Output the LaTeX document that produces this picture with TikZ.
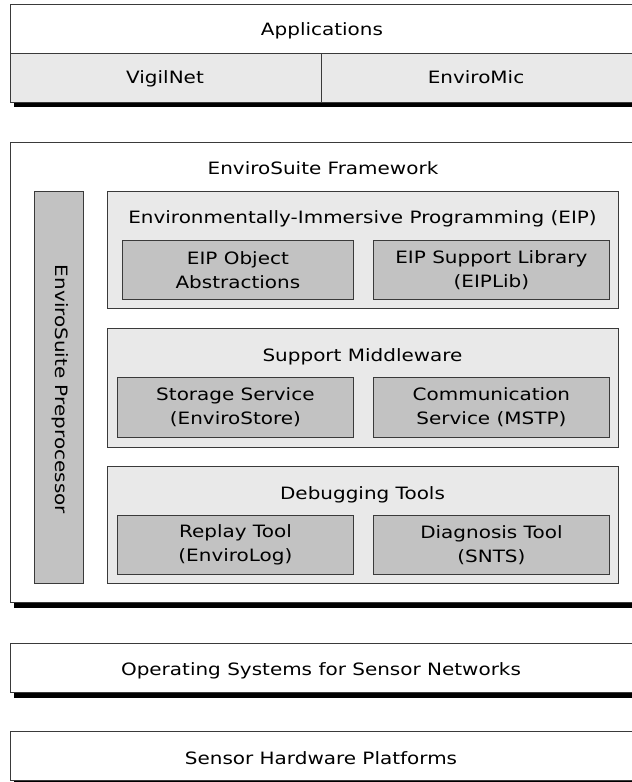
\documentclass[tikz,border=0pt]{standalone}
\usepackage{fontspec}
\setmainfont[FakeStretch=1.175]{DejaVu Sans}
\usetikzlibrary{shadows}
\definecolor{linec}{HTML}{3A3A3A}
\definecolor{lightfill}{HTML}{E9E9E9}
\definecolor{darkfill}{HTML}{C2C2C2}
\begin{document}
\begin{tikzpicture}[x=1pt,y=-1pt,
  font=\fontsize{17}{24}\selectfont,
  frame/.style={draw=linec, line width=0.9pt, fill=white, anchor=north west, inner sep=0pt,
    drop shadow={shadow xshift=4.5pt, shadow yshift=-5.5pt, opacity=1, fill=black}},
  layer/.style={draw=linec, line width=0.8pt, fill=lightfill, anchor=north west, inner sep=0pt},
  part/.style={draw=linec, line width=0.8pt, fill=darkfill, anchor=north west, inner sep=0pt},
  label/.style={anchor=base, inner sep=0pt},
  multi/.style={align=center, inner sep=0pt}
]
\useasboundingbox (0,0) rectangle (632,782);
\clip (0,0) rectangle (632,782);

% Applications
\node[frame, minimum width=640pt, minimum height=97.5pt] (apps) at (9.5,4) {};
\node[layer, minimum width=311.5pt, minimum height=48.5pt] (vigil) at (9.5,53) {};
\node[layer, minimum width=320pt, minimum height=48.5pt] (enviromic) at (321,53) {};
\node[label] (appsT) at (322,35.5) {Applications};
\node[label] (vigilT) at (165,83.3) {VigilNet};
\node[label] (enviromicT) at (476,83.3) {EnviroMic};

% EnviroSuite framework
\node[frame, minimum width=640pt, minimum height=460pt] (fw) at (9.5,141.7) {};
\node[label] (fwT) at (323,174) {EnviroSuite Framework};
\node[part, minimum width=49pt, minimum height=392pt] (pre) at (34,191) {};
\node[rotate=-90, inner sep=0pt] (preT) at ([xshift=1pt,yshift=-2pt]pre.center) {EnviroSuite Preprocessor};

% EIP
\node[layer, minimum width=511pt, minimum height=117pt] (eip) at (107,191) {};
\node[label] (eipT) at (362.5,223) {Environmentally-Immersive Programming (EIP)};
\node[part, minimum width=231pt, minimum height=59pt] (eipobj) at (122,240) {};
\node[multi] at (eipobj.center) {EIP Object\\Abstractions};
\node[part, minimum width=236pt, minimum height=59pt] (eiplib) at (373,240) {};
\node[multi] at (eiplib.center) {EIP Support Library\\(EIPLib)};

% Support middleware
\node[layer, minimum width=511pt, minimum height=119pt] (mw) at (107,328) {};
\node[label] (mwT) at (362.5,361) {Support Middleware};
\node[part, minimum width=236pt, minimum height=60pt] (store) at (117,377) {};
\node[multi] at (store.center) {Storage Service\\(EnviroStore)};
\node[part, minimum width=236pt, minimum height=60pt] (comm) at (373,377) {};
\node[multi] at (comm.center) {Communication\\Service (MSTP)};

% Debugging tools
\node[layer, minimum width=511pt, minimum height=117pt] (dbg) at (107,466) {};
\node[label] (dbgT) at (362.5,499.3) {Debugging Tools};
\node[part, minimum width=236pt, minimum height=59pt] (replay) at (117,515) {};
\node[multi] at (replay.center) {Replay Tool\\(EnviroLog)};
\node[part, minimum width=236pt, minimum height=59pt] (diag) at (373,515) {};
\node[multi] at (diag.center) {Diagnosis Tool\\(SNTS)};

% OS and hardware
\node[frame, minimum width=640pt, minimum height=49pt] (os) at (9.5,642.7) {};
\node[label] (osT) at (321,675) {Operating Systems for Sensor Networks};
\node[frame, minimum width=640pt, minimum height=49pt] (hw) at (9.5,731) {};
\node[label] (hwT) at (321,764) {Sensor Hardware Platforms};
\end{tikzpicture}
\end{document}
